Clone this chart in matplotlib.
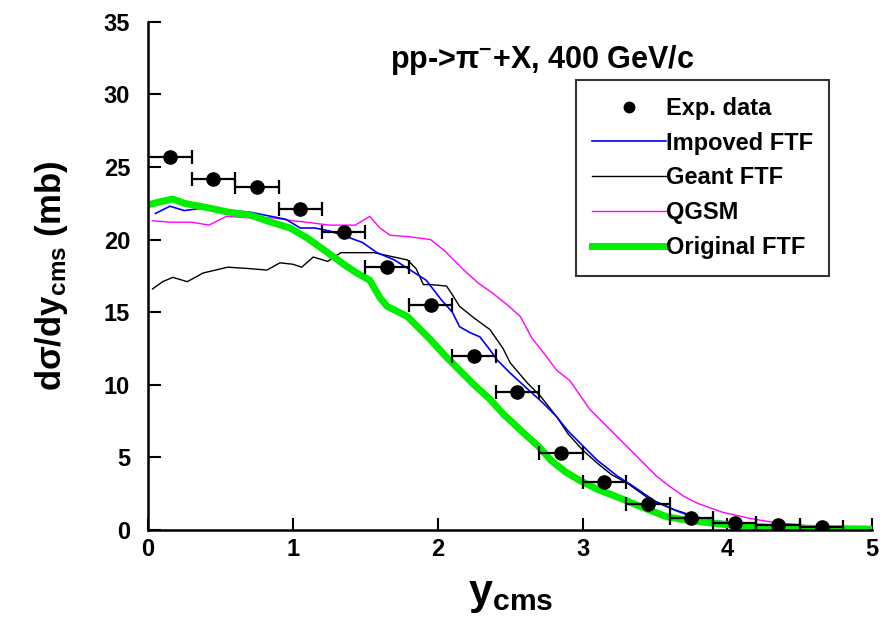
import matplotlib
matplotlib.use("Agg")
import matplotlib.pyplot as plt
from matplotlib.lines import Line2D

plt.rcParams['font.family'] = ['Liberation Sans', 'DejaVu Sans']
plt.rcParams['font.weight'] = 'bold'
plt.rcParams['mathtext.default'] = 'regular'

# experimental points, horizontal bin half-width 0.15
exp_x = [0.15, 0.45, 0.75, 1.05, 1.35, 1.65, 1.95, 2.25, 2.55, 2.85, 3.15, 3.45, 3.75, 4.05, 4.35, 4.65]
exp_y = [25.7, 24.2, 23.6, 22.1, 20.5, 18.1, 15.5, 12.0, 9.5, 5.3, 3.3, 1.8, 0.8, 0.5, 0.3, 0.2]
exp_xerr = 0.15

# Improved FTF (blue)
imp_x = [0.05, 0.15, 0.25, 0.4, 0.55, 0.7, 0.85, 0.95, 1.05, 1.15, 1.25, 1.37, 1.48, 1.58, 1.7, 1.81,
         1.92, 2.02, 2.1, 2.15, 2.22, 2.29, 2.36, 2.41, 2.5, 2.62, 2.72, 2.82, 2.9, 3.0, 3.1, 3.24,
         3.35, 3.51, 3.65, 3.76, 3.9, 4.09, 4.25, 4.5, 4.8, 5.0]
imp_y = [21.8, 22.3, 22.0, 22.2, 22.0, 21.9, 21.6, 21.4, 20.8, 20.8, 20.6, 20.2, 19.8, 19.1, 18.6, 17.9,
         17.2, 15.9, 15.0, 14.0, 13.6, 13.3, 12.4, 11.7, 10.8, 9.7, 8.8, 7.8, 6.8, 5.8, 4.8, 3.7,
         3.0, 1.9, 1.3, 0.9, 0.6, 0.5, 0.2, 0.1, 0.02, 0.0]

# Geant FTF (black)
geant_x = [0.03, 0.1, 0.17, 0.27, 0.38, 0.55, 0.7, 0.82, 0.91, 1.0, 1.06, 1.14, 1.24, 1.33, 1.45, 1.56,
           1.65, 1.79, 1.85, 1.9, 1.95, 2.06, 2.1, 2.15, 2.25, 2.36, 2.45, 2.5, 2.62, 2.71, 2.82, 2.9,
           3.0, 3.1, 3.2, 3.31, 3.45, 3.63, 3.75, 3.86, 4.0, 4.2, 4.5, 5.0]
geant_y = [16.6, 17.1, 17.4, 17.1, 17.7, 18.1, 18.0, 17.9, 18.4, 18.3, 18.1, 18.8, 18.5, 19.1, 19.1, 19.1,
           18.9, 18.6, 18.0, 16.9, 16.9, 16.8, 16.2, 15.4, 14.6, 13.8, 12.5, 11.5, 10.1, 9.2, 7.8, 6.6,
           5.5, 4.6, 3.8, 3.2, 2.2, 1.4, 1.0, 0.7, 0.4, 0.2, 0.05, 0.0]

# QGSM (magenta)
qgsm_x = [0.03, 0.15, 0.3, 0.42, 0.54, 0.7, 0.86, 1.0, 1.09, 1.25, 1.43, 1.53, 1.6, 1.67, 1.8, 1.95,
          2.05, 2.18, 2.28, 2.38, 2.48, 2.57, 2.65, 2.73, 2.82, 2.91, 3.05, 3.15, 3.28, 3.4, 3.51, 3.6,
          3.7, 3.8, 3.97, 4.15, 4.32, 4.5, 4.6, 4.7, 5.0]
qgsm_y = [21.3, 21.2, 21.2, 21.0, 21.6, 21.5, 21.5, 21.3, 21.2, 21.0, 21.0, 21.6, 20.8, 20.3, 20.2, 20.0,
          19.2, 17.9, 17.0, 16.3, 15.5, 14.7, 13.2, 12.2, 11.0, 10.3, 8.3, 7.3, 6.0, 4.8, 3.7, 3.0,
          2.3, 1.8, 1.2, 0.8, 0.5, 0.35, 0.2, 0.0, 0.0]

# Original FTF (green)
orig_x = [0.0, 0.08, 0.17, 0.25, 0.41, 0.55, 0.7, 0.85, 0.98, 1.1, 1.24, 1.35, 1.44, 1.53, 1.6, 1.65,
          1.79, 1.95, 2.05, 2.15, 2.25, 2.36, 2.45, 2.59, 2.7, 2.78, 2.88, 2.98, 3.1, 3.28, 3.4, 3.58,
          3.7, 3.86, 4.0, 4.32, 4.6, 5.0]
orig_y = [22.4, 22.6, 22.8, 22.5, 22.2, 21.9, 21.7, 21.2, 20.8, 20.1, 19.1, 18.3, 17.7, 17.2, 16.0, 15.4,
          14.7, 13.1, 12.0, 11.0, 10.0, 9.0, 8.0, 6.7, 5.7, 4.8, 4.0, 3.4, 2.8, 2.1, 1.6, 0.9,
          0.7, 0.5, 0.35, 0.15, 0.1, 0.05]

fig = plt.figure(figsize=(8.82, 6.27), dpi=100)
ax = fig.add_axes([0.168, 0.155, 0.821, 0.810])

ax.plot(qgsm_x, qgsm_y, color='#ff00ff', lw=1.0)
ax.plot(geant_x, geant_y, color='black', lw=1.0)
ax.plot(imp_x, imp_y, color='#0000ff', lw=1.2)
ax.plot(orig_x, orig_y, color='#00ee00', lw=5, solid_capstyle='butt')
ax.errorbar(exp_x, exp_y, xerr=exp_xerr, fmt='o', color='black', ms=9.5,
            capsize=5, elinewidth=1.6, capthick=1.6)

ax.set_xlim(0, 5)
ax.set_ylim(0, 35)
ax.set_xticks([0, 1, 2, 3, 4, 5])
ax.set_yticks([0, 5, 10, 15, 20, 25, 30, 35])
ax.spines['top'].set_visible(False)
ax.spines['right'].set_visible(False)
ax.spines['left'].set_linewidth(1.8)
ax.spines['bottom'].set_linewidth(1.8)
ax.tick_params(direction='in', length=9, width=1.5, labelsize=17)
ax.tick_params(axis='y', pad=13)
ax.tick_params(axis='x', pad=6)

ax.set_xlabel(r'y$_{cms}$', fontsize=31, fontweight='bold', labelpad=10)
ax.set_ylabel(r'd$\sigma$/dy$_{cms}$ (mb)', fontsize=25, fontweight='bold', labelpad=24)

ax.text(2.72, 32.4, r'pp->$\pi^{-}$+X, 400 GeV/c', fontsize=22, fontweight='bold', ha='center', va='center')

handles = [
    Line2D([], [], marker='o', color='black', ls='none', ms=7.5),
    Line2D([], [], color='#0000ff', lw=1.2),
    Line2D([], [], color='black', lw=1.0),
    Line2D([], [], color='#ff00ff', lw=1.0),
    Line2D([], [], color='#00ee00', lw=5),
]
labels = ['Exp. data', 'Impoved FTF', 'Geant FTF', 'QGSM', 'Original FTF']
leg = fig.legend(handles, labels, loc='upper left', bbox_to_anchor=(0.653, 0.872),
                 fontsize=17, frameon=True, fancybox=False, edgecolor='black',
                 handlelength=3.1, handletextpad=0.0, labelspacing=0.5, borderpad=0.7,
                 borderaxespad=0)
leg.get_frame().set_linewidth(1.5)

fig.savefig('out.png', dpi=100)
